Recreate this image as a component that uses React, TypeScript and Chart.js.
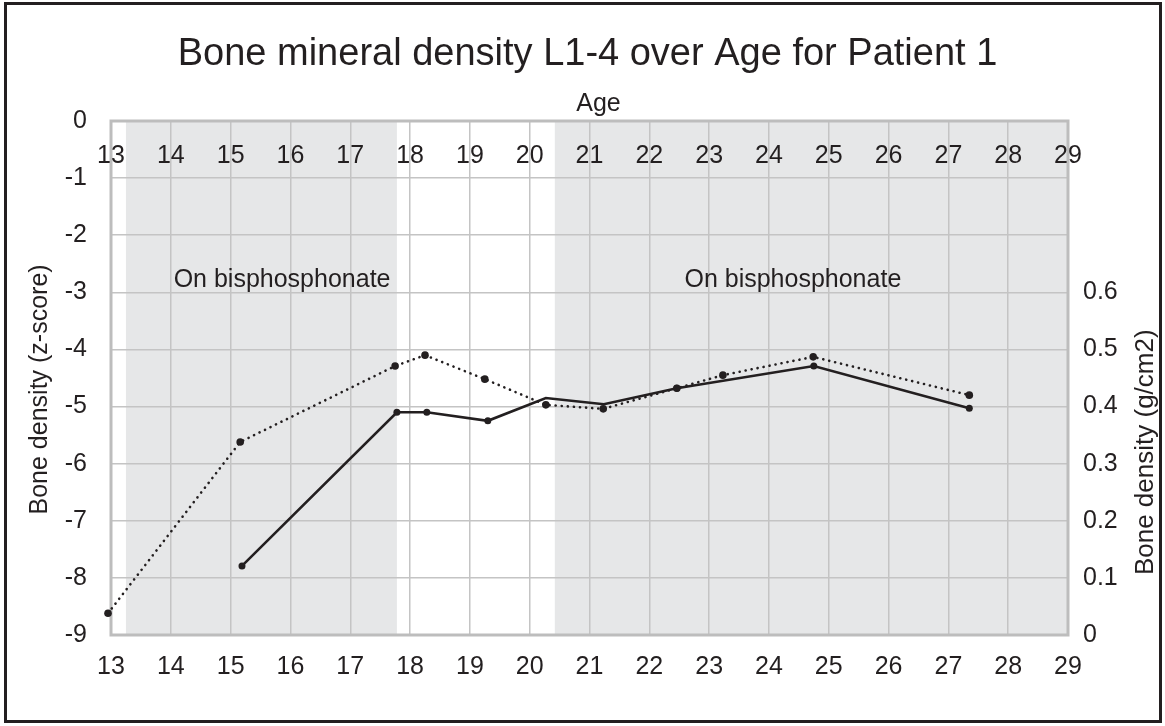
import React, { useEffect, useRef } from 'react';
import { Chart, registerables } from 'chart.js';

Chart.register(...registerables);

const FONT = '"Liberation Sans", Arial, sans-serif';
const INK = '#231f20';

// ---- data ----
const ageTicks = [13, 14, 15, 16, 17, 18, 19, 20, 21, 22, 23, 24, 25, 26, 27, 28, 29];
const ageTickLabels = ['13', '14', '15', '16', '17', '18', '19', '20', '21', '22', '23', '24', '25', '26', '27', '28', '29'];
const zTicks = [-9, -8, -7, -6, -5, -4, -3, -2, -1, 0];
const zTickLabels = ['-9', '-8', '-7', '-6', '-5', '-4', '-3', '-2', '-1', '0'];
const bmdTicks = [0, 0.1, 0.2, 0.3, 0.4, 0.5, 0.6];
const bmdTickLabels = ['0', '0.1', '0.2', '0.3', '0.4', '0.5', '0.6'];

const zAges = [12.95, 15.16, 17.75, 18.25, 19.25, 20.27, 21.23, 22.46, 23.23, 24.74, 27.35];
const zScores = [-8.62, -5.62, -4.29, -4.1, -4.52, -4.97, -5.04, -4.68, -4.45, -4.13, -4.8];

const bmdAges = [15.19, 17.78, 18.28, 19.3, 20.27, 21.24, 22.46, 24.75, 27.35];
const bmdValues = [0.121, 0.39, 0.39, 0.375, 0.415, 0.404, 0.432, 0.471, 0.397];
const bmdMarkerShown = [true, true, true, true, false, false, true, true, true];

const bisphosStart = [13.25, 20.42];
const bisphosEnd = [17.78, 29];
const bisphosLabelAge = [15.86, 24.4];
const bisphosLabelZ = -2.78;
const bisphosLabel = 'On bisphosphonate';

const titleText = 'Bone mineral density L1-4 over Age for Patient 1';
const xTitle = 'Age';
const yTitle = 'Bone density (z-score)';
const y2Title = 'Bone density (g/cm2)';

const decor = {
  id: 'decor',
  beforeDraw(chart: any) {
    const { ctx, chartArea: a, scales } = chart;
    const x = scales.x;
    ctx.save();
    ctx.fillStyle = '#e6e7e8';
    for (let i = 0; i < bisphosStart.length; i++) {
      const x0 = x.getPixelForValue(bisphosStart[i]);
      const x1 = x.getPixelForValue(bisphosEnd[i]);
      ctx.fillRect(x0, a.top, x1 - x0, a.bottom - a.top);
    }
    ctx.restore();
  },
  beforeDatasetsDraw(chart: any) {
    const { ctx, chartArea: a, scales } = chart;
    const x = scales.x;
    const y = scales.y;
    ctx.save();
    ctx.strokeStyle = '#bdbdbd';
    ctx.lineWidth = 3;
    ctx.strokeRect(a.left, a.top, a.right - a.left, a.bottom - a.top);

    ctx.fillStyle = INK;
    ctx.font = `25px ${FONT}`;
    ctx.textAlign = 'center';
    ctx.textBaseline = 'middle';
    ageTicks.forEach((v, i) => {
      ctx.fillText(ageTickLabels[i], x.getPixelForValue(v), a.top + 35);
    });
    bisphosLabelAge.forEach((v) => {
      ctx.fillText(bisphosLabel, x.getPixelForValue(v), y.getPixelForValue(bisphosLabelZ));
    });

    // axis titles
    ctx.fillText(xTitle, (a.left + a.right) / 2 + 9, a.top - 17);

    ctx.save();
    ctx.translate(40, y.getPixelForValue(-4.7));
    ctx.rotate(-Math.PI / 2);
    ctx.fillText(yTitle, 0, 0);
    ctx.restore();

    const y2 = scales.y2;
    ctx.save();
    ctx.translate(a.right + 78, y2.getPixelForValue(0.32));
    ctx.rotate(-Math.PI / 2);
    ctx.font = `26px ${FONT}`;
    ctx.fillText(y2Title, 0, 0);
    ctx.restore();
    ctx.restore();
  },
};

export default function App() {
  const ref = useRef<HTMLCanvasElement>(null);
  useEffect(() => {
    if (!ref.current) return;
    const tickFont = { family: FONT, size: 25 };
    const chart = new Chart(ref.current, {
      type: 'line',
      data: {
        datasets: [
          {
            label: 'z-score',
            data: zAges.map((age, i) => ({ x: age, y: zScores[i] })),
            yAxisID: 'y',
            xAxisID: 'x',
            borderColor: INK,
            borderWidth: 2.6,
            borderDash: [0.1, 6],
            borderCapStyle: 'round',
            pointRadius: 3.8,
            pointBackgroundColor: INK,
            pointBorderWidth: 0,
            tension: 0,
            clip: false,
          } as any,
          {
            label: 'g/cm2',
            data: bmdAges.map((age, i) => ({ x: age, y: bmdValues[i] })),
            yAxisID: 'y2',
            xAxisID: 'x',
            borderColor: INK,
            borderWidth: 2.6,
            pointRadius: bmdMarkerShown.map((s) => (s ? 3.5 : 0)),
            pointBackgroundColor: INK,
            pointBorderWidth: 0,
            tension: 0,
            clip: false,
          } as any,
        ],
      },
      options: {
        responsive: false,
        animation: false,
        events: [],
        layout: { padding: { top: 20, left: 10, right: 0, bottom: 0 } },
        plugins: {
          legend: { display: false },
          tooltip: { enabled: false },
          title: {
            display: true,
            text: titleText,
            color: INK,
            font: { family: FONT, size: 38, weight: 'normal' },
            padding: { top: 12, bottom: 0 },
          },
        },
        scales: {
          x: {
            type: 'linear',
            position: 'bottom',
            min: 13,
            max: 29,
            afterBuildTicks: (s: any) => {
              s.ticks = ageTicks.map((v) => ({ value: v }));
            },
            ticks: {
              callback: (v: any) => ageTickLabels[ageTicks.indexOf(Number(v))],
              font: tickFont,
              color: INK,
              padding: 17,
              maxRotation: 0,
              autoSkip: false,
            },
            grid: { color: '#c4c4c4', lineWidth: 1.5, drawTicks: false },
            border: { display: false },
            afterFit: (s: any) => {
              s.height = 91;
            },
          },
          xTop: {
            type: 'linear',
            position: 'top',
            min: 13,
            max: 29,
            ticks: { display: false },
            grid: { display: false, drawTicks: false },
            border: { display: false },
            title: { display: false },
            afterFit: (s: any) => {
              s.height = 43.4;
            },
          },
          y: {
            type: 'linear',
            position: 'left',
            min: -9,
            max: 0,
            afterBuildTicks: (s: any) => {
              s.ticks = zTicks.map((v) => ({ value: v }));
            },
            ticks: {
              callback: (v: any) => zTickLabels[zTicks.indexOf(Number(v))],
              font: tickFont,
              color: INK,
              padding: 24,
            },
            grid: { color: '#c4c4c4', lineWidth: 1.5, drawTicks: false },
            border: { display: false },
            afterFit: (s: any) => {
              s.width = 101;
            },
          },
          y2: {
            type: 'linear',
            position: 'right',
            min: 0,
            max: 0.9,
            afterBuildTicks: (s: any) => {
              s.ticks = bmdTicks.map((v) => ({ value: v }));
            },
            ticks: {
              callback: (v: any) => {
                const idx = bmdTicks.findIndex((t) => Math.abs(t - Number(v)) < 1e-9);
                return idx >= 0 ? bmdTickLabels[idx] : '';
              },
              font: tickFont,
              color: INK,
              padding: 15,
            },
            grid: { display: false, drawTicks: false },
            border: { display: false },
            afterFit: (s: any) => {
              s.width = 97;
            },
          },
        } as any,
      },
      plugins: [decor],
    });
    return () => chart.destroy();
  }, []);

  return (
    <div style={{ position: 'fixed', left: 0, top: 0, width: 1165, height: 726, background: '#fff' }}>
      <canvas ref={ref} width={1165} height={726} style={{ display: 'block' }} />
      <div
        style={{
          position: 'absolute',
          left: 4,
          top: 2,
          width: 1158,
          height: 721,
          boxSizing: 'border-box',
          border: `3px solid ${INK}`,
          pointerEvents: 'none',
        }}
      />
    </div>
  );
}
